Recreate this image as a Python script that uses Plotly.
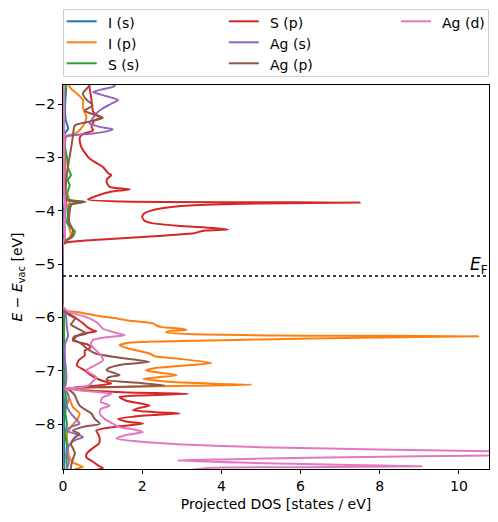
import plotly.graph_objects as go

# ---------------- data (energy [eV], projected DOS [states/eV]) ----------------
series_names = ["I (s)", "I (p)", "S (s)", "S (p)", "Ag (s)", "Ag (p)", "Ag (d)"]
series_colors = ["#1f77b4", "#ff7f0e", "#2ca02c", "#d62728", "#9467bd", "#8c564b", "#e377c2"]

fermi_level = -5.22

x_ticks = [0, 2, 4, 6, 8, 10]
y_ticks = [-2, -3, -4, -5, -6, -7, -8]
y_tick_labels = ["\u22122", "\u22123", "\u22124", "\u22125", "\u22126", "\u22127", "\u22128"]

I_s_pts = [(-1.5, 0.05), (-1.7, 0.08), (-1.9, 0.06), (-2.1, 0.05), (-2.3, 0.07), (-2.42, 0.12),
           (-2.46, 0.13), (-2.52, 0.07), (-2.62, 0.02), (-3.0, 0.02), (-3.5, 0.02), (-3.83, 0.04),
           (-4.0, 0.02), (-4.4, 0.03), (-4.58, 0.01), (-4.65, 0.0), (-5.8, 0.0), (-5.88, 0.01),
           (-6.3, 0.02), (-6.8, 0.02), (-7.3, 0.02), (-7.34, 0.0), (-7.5, 0.02), (-8.0, 0.03),
           (-8.5, 0.03), (-9.0, 0.03)]

I_p_pts = [(-1.5, 0.12), (-1.68, 0.17), (-1.8, 0.35), (-1.92, 0.51), (-2.05, 0.5), (-2.24, 0.59),
           (-2.35, 0.55), (-2.49, 0.42), (-2.55, 0.3), (-2.6, 0.08), (-2.8, 0.05), (-3.2, 0.06),
           (-3.6, 0.08), (-3.83, 0.17), (-3.9, 0.12), (-4.1, 0.15), (-4.3, 0.15), (-4.45, 0.2),
           (-4.55, 0.1), (-4.6, 0.0), (-5.8, 0.0), (-5.87, 0.05), (-5.9, 0.4), (-5.93, 0.6),
           (-5.97, 0.9), (-6.01, 1.3), (-6.05, 1.6), (-6.09, 2.1), (-6.12, 2.3), (-6.15, 2.36),
           (-6.18, 2.5), (-6.21, 3.0), (-6.23, 3.12), (-6.25, 2.7), (-6.28, 2.6), (-6.31, 3.2),
           (-6.335, 5.5), (-6.35, 10.49), (-6.36, 9.5), (-6.38, 7.5), (-6.41, 5.0), (-6.44, 3.0),
           (-6.47, 1.7), (-6.52, 1.43), (-6.58, 1.65), (-6.64, 2.0), (-6.68, 2.2), (-6.72, 2.3),
           (-6.78, 3.0), (-6.85, 3.75), (-6.9, 3.1), (-6.95, 2.3), (-6.99, 2.1), (-7.03, 2.4),
           (-7.08, 2.87), (-7.12, 2.4), (-7.15, 2.02), (-7.2, 2.6), (-7.24, 3.8), (-7.26, 4.76),
           (-7.28, 3.2), (-7.31, 1.0), (-7.34, 0.05), (-7.4, 0.1), (-7.46, 0.13), (-7.55, 0.18),
           (-7.68, 0.25), (-7.8, 0.42), (-7.93, 0.34), (-8.05, 0.2), (-8.2, 0.1), (-8.4, 0.12),
           (-8.6, 0.15), (-8.72, 0.25), (-8.8, 0.5), (-8.85, 0.3), (-9.0, 0.2)]

S_s_pts = [(-1.5, 0.1), (-1.66, 0.08), (-1.8, 0.04), (-2.2, 0.03), (-2.6, 0.02), (-2.8, 0.05),
           (-3.0, 0.1), (-3.2, 0.13), (-3.33, 0.2), (-3.42, 0.12), (-3.52, 0.17), (-3.67, 0.1),
           (-3.78, 0.12), (-3.83, 0.57), (-3.87, 0.2), (-3.97, 0.13), (-4.1, 0.12), (-4.22, 0.1),
           (-4.32, 0.2), (-4.38, 0.3), (-4.48, 0.25), (-4.55, 0.1), (-4.6, 0.0), (-5.8, 0.0),
           (-5.9, 0.02), (-6.5, 0.03), (-7.3, 0.03), (-7.34, 0.0), (-7.4, 0.05), (-7.6, 0.08),
           (-7.8, 0.06), (-8.0, 0.1), (-8.2, 0.06), (-8.4, 0.1), (-8.6, 0.08), (-8.8, 0.1), (-9.0, 0.08)]

S_p_pts = [(-1.5, 0.65), (-1.68, 0.67), (-1.92, 0.72), (-2.14, 0.76), (-2.22, 0.9), (-2.25, 1.0),
           (-2.3, 0.8), (-2.42, 0.72), (-2.49, 0.76), (-2.56, 0.5), (-2.64, 0.42), (-2.8, 0.46),
           (-3.02, 0.67), (-3.18, 1.01), (-3.3, 1.15), (-3.33, 1.22), (-3.4, 1.12), (-3.46, 1.1),
           (-3.55, 1.18), (-3.6, 1.69), (-3.64, 1.2), (-3.72, 0.85), (-3.79, 0.63), (-3.825, 1.5),
           (-3.845, 7.5), (-3.86, 5.0), (-3.9, 3.2), (-3.95, 2.5), (-4.0, 2.2), (-4.05, 2.05),
           (-4.11, 2.0), (-4.18, 2.05), (-4.23, 2.25), (-4.28, 2.9), (-4.32, 3.8), (-4.35, 4.17),
           (-4.37, 3.6), (-4.4, 3.4), (-4.42, 3.3), (-4.47, 2.4), (-4.52, 1.4), (-4.56, 0.5),
           (-4.6, 0.05), (-4.65, 0.0), (-5.8, 0.0), (-5.87, 0.03), (-5.95, 0.2), (-6.05, 0.4),
           (-6.11, 0.51), (-6.17, 0.6), (-6.24, 0.76), (-6.26, 0.84), (-6.3, 0.5), (-6.35, 0.35),
           (-6.43, 0.25), (-6.5, 0.6), (-6.56, 0.7), (-6.62, 0.55), (-6.71, 0.55), (-6.8, 0.4),
           (-6.9, 0.35), (-6.99, 0.55), (-7.08, 0.7), (-7.18, 0.97), (-7.24, 1.22), (-7.28, 0.8),
           (-7.32, 0.2), (-7.35, 0.3), (-7.4, 1.5), (-7.43, 3.16), (-7.46, 2.0), (-7.49, 1.43),
           (-7.56, 1.6), (-7.65, 2.19), (-7.7, 1.9), (-7.74, 1.77), (-7.78, 2.5), (-7.8, 2.95),
           (-7.84, 2.0), (-7.9, 1.39), (-7.95, 1.6), (-7.99, 2.02), (-8.04, 1.4), (-8.12, 0.84),
           (-8.2, 0.9), (-8.3, 0.93), (-8.37, 0.9), (-8.45, 0.75), (-8.55, 0.6), (-8.62, 0.59),
           (-8.7, 0.75), (-8.78, 0.9), (-8.82, 1.01), (-8.88, 0.7), (-9.0, 0.4)]

Ag_s_pts = [(-1.5, 0.9), (-1.6, 1.2), (-1.66, 1.31), (-1.72, 1.0), (-1.77, 0.76), (-1.85, 1.1),
            (-1.92, 1.39), (-2.0, 1.2), (-2.08, 1.0), (-2.17, 0.84), (-2.27, 0.75), (-2.36, 0.67),
            (-2.42, 0.9), (-2.47, 1.26), (-2.51, 1.1), (-2.55, 0.76), (-2.58, 0.3), (-2.62, 0.06),
            (-3.0, 0.04), (-3.5, 0.04), (-3.83, 0.08), (-4.2, 0.04), (-4.5, 0.04), (-4.6, 0.0),
            (-5.8, 0.0), (-5.88, 0.05), (-6.0, 0.08), (-6.2, 0.1), (-6.34, 0.13), (-6.5, 0.05),
            (-6.8, 0.05), (-7.0, 0.08), (-7.2, 0.08), (-7.3, 0.05), (-7.34, 0.0), (-7.4, 0.1),
            (-7.5, 0.15), (-7.65, 0.1), (-7.8, 0.2), (-7.92, 0.35), (-7.99, 0.42), (-8.05, 0.2),
            (-8.12, 0.1), (-8.24, 0.51), (-8.3, 0.3), (-8.4, 0.15), (-8.55, 0.1), (-8.7, 0.15),
            (-8.85, 0.1), (-9.0, 0.1)]

Ag_p_pts = [(-1.5, 0.6), (-1.64, 0.67), (-1.8, 0.5), (-1.92, 0.6), (-2.02, 0.75), (-2.12, 0.55),
            (-2.2, 0.8), (-2.26, 1.0), (-2.33, 0.65), (-2.4, 0.3), (-2.6, 0.25), (-2.8, 0.21),
            (-3.1, 0.14), (-3.43, 0.08), (-3.7, 0.05), (-3.8, 0.1), (-3.83, 0.55), (-3.87, 0.25),
            (-3.9, 0.2), (-4.2, 0.15), (-4.36, 0.25), (-4.5, 0.2), (-4.58, 0.0), (-5.8, 0.0),
            (-5.88, 0.05), (-5.95, 0.15), (-6.02, 0.3), (-6.08, 0.25), (-6.13, 0.2), (-6.2, 0.35),
            (-6.3, 0.59), (-6.35, 0.3), (-6.4, 0.25), (-6.49, 0.46), (-6.58, 0.6), (-6.68, 0.84),
            (-6.75, 1.4), (-6.83, 2.19), (-6.88, 1.5), (-6.95, 1.15), (-6.99, 1.1), (-7.04, 1.3),
            (-7.08, 1.43), (-7.12, 1.15), (-7.17, 1.1), (-7.22, 1.8), (-7.27, 2.57), (-7.3, 1.5),
            (-7.33, 0.1), (-7.38, 0.2), (-7.46, 0.3), (-7.55, 0.35), (-7.65, 0.42), (-7.72, 0.55),
            (-7.8, 0.72), (-7.9, 0.8), (-7.99, 0.93), (-8.05, 0.5), (-8.12, 0.25), (-8.18, 0.42),
            (-8.25, 0.3), (-8.37, 0.2), (-8.45, 0.25), (-8.55, 0.3), (-8.65, 0.25), (-8.8, 0.2),
            (-9.0, 0.2)]

Ag_d_pts = [(-1.5, 0.02), (-2.5, 0.03), (-3.5, 0.02), (-3.83, 0.05), (-4.3, 0.03), (-4.5, 0.05),
            (-4.6, 0.0), (-5.8, 0.0), (-5.87, 0.1), (-5.9, 0.17), (-5.97, 0.5), (-6.05, 0.76),
            (-6.12, 0.9), (-6.21, 1.01), (-6.28, 1.3), (-6.33, 1.56), (-6.37, 1.1), (-6.42, 0.76),
            (-6.5, 0.7), (-6.62, 0.84), (-6.7, 0.95), (-6.8, 1.01), (-6.9, 0.8), (-6.99, 0.59),
            (-7.05, 0.7), (-7.12, 0.84), (-7.2, 0.75), (-7.26, 0.67), (-7.3, 0.5), (-7.33, 0.1),
            (-7.38, 0.6), (-7.43, 1.22), (-7.5, 1.0), (-7.58, 0.95), (-7.65, 1.18), (-7.72, 0.95),
            (-7.8, 0.93), (-7.9, 1.05), (-7.99, 1.26), (-8.05, 1.4), (-8.1, 1.8), (-8.15, 2.02),
            (-8.2, 1.6), (-8.27, 1.35), (-8.33, 2.0), (-8.38, 3.0), (-8.43, 5.0), (-8.48, 8.3),
            (-8.51, 11.0), (-8.55, 13.0), (-8.58, 11.5), (-8.6, 9.0), (-8.63, 6.2), (-8.66, 4.0),
            (-8.68, 2.9), (-8.72, 4.5), (-8.76, 7.0), (-8.79, 9.06), (-8.805, 6.0), (-8.82, 3.66),
            (-8.86, 3.2), (-9.0, 2.0)]

series_points = [I_s_pts, I_p_pts, S_s_pts, S_p_pts, Ag_s_pts, Ag_p_pts, Ag_d_pts]

# ---------------- figure ----------------
W, H = 498, 522
L, R, T, B = 63.3, 489.0, 84.7, 468.7
x_range = [0, 10.76]
y_range = [-8.84, -1.64]
FONT = "DejaVu Sans"
LW = 2.0

fig = go.Figure()
for name, color, pts in zip(series_names, series_colors, series_points):
    energies = [p[0] for p in pts]
    dos = [p[1] for p in pts]
    fig.add_trace(go.Scatter(x=dos, y=energies, mode="lines", name=name,
                             line=dict(color=color, width=LW, shape="spline", smoothing=0.6),
                             showlegend=False, hoverinfo="skip"))

# Fermi level
fig.add_shape(type="line", xref="paper", yref="y", x0=0, x1=1, y0=fermi_level, y1=fermi_level,
              line=dict(color="black", width=1.6, dash="dot"))
fig.add_annotation(x=1, xref="paper", y=fermi_level, yref="y", text="<i>E</i><sub>F</sub>",
                   showarrow=False, xanchor="right", yanchor="bottom", yshift=-3, xshift=1,
                   font=dict(family=FONT, size=17, color="black"))

# Legend drawn manually (3 columns, column-major order as in the reference)
pw, ph = R - L, B - T
def px_x(px):
    return (px - L) / pw
def px_y(py):
    return (B - py) / ph

lx0, lx1, ly0, ly1 = 63.8, 488.5, 9.3, 76.0
fig.add_shape(type="rect", xref="paper", yref="paper",
              x0=px_x(lx0), x1=px_x(lx1), y0=px_y(ly1), y1=px_y(ly0),
              line=dict(color="#cccccc", width=1), fillcolor="white", layer="above")

col_line_x = [67.0, 229.0, 401.0]
row_y = [21.0, 42.0, 63.0]
n_rows = 3
for i, (name, color) in enumerate(zip(series_names, series_colors)):
    c, r = divmod(i, n_rows)
    x0 = col_line_x[c]
    yy = px_y(row_y[r])
    fig.add_shape(type="line", xref="paper", yref="paper", x0=px_x(x0), x1=px_x(x0 + 30),
                  y0=yy, y1=yy, line=dict(color=color, width=LW), layer="above")
    fig.add_annotation(x=px_x(x0 + 39), y=yy, xref="paper", yref="paper", text=name,
                       showarrow=False, xanchor="left", yanchor="middle", yshift=-2,
                       font=dict(family=FONT, size=14, color="black"))

axis_common = dict(showline=True, linecolor="black", linewidth=1, mirror=True,
                   ticks="outside", ticklen=4, tickwidth=1, tickcolor="black",
                   showgrid=False, zeroline=False, automargin=False,
                   tickfont=dict(family=FONT, size=14, color="black"))

fig.update_layout(
    width=W, height=H,
    margin=dict(l=L, r=W - R, t=T, b=H - B, pad=0),
    paper_bgcolor="white", plot_bgcolor="white",
    font=dict(family=FONT, size=14, color="black"),
    xaxis=dict(range=x_range, tickvals=x_ticks,
               title=dict(text="Projected DOS [states / eV]", font=dict(family=FONT, size=14), standoff=6),
               **axis_common),
    yaxis=dict(range=y_range, tickvals=y_ticks, ticktext=y_tick_labels,
               title=dict(text="<i>E</i> \u2212 <i>E</i><sub>vac</sub> [eV]", font=dict(family=FONT, size=14), standoff=8),
               **axis_common),
    showlegend=False,
)

fig.write_html("out.html", config={"displayModeBar": False},
               post_script="document.body.style.margin='0px';document.body.style.overflow='hidden';")
